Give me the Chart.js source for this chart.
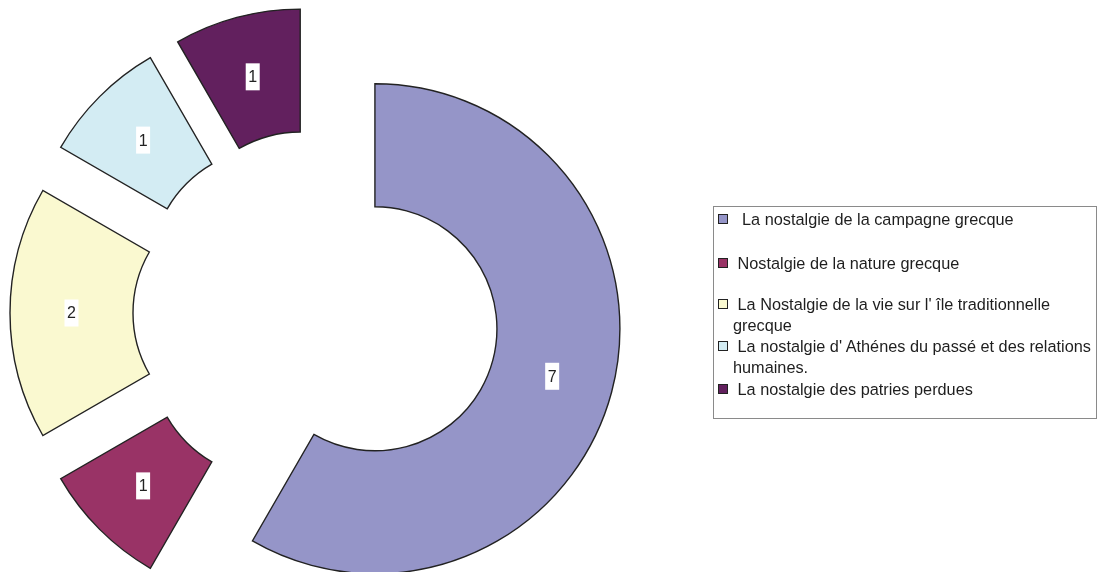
<!DOCTYPE html>
<html>
<head>
<meta charset="utf-8">
<script src="https://cdn.jsdelivr.net/npm/chart.js@4"></script>
<style>
	body { margin: 0; background: #fff; }
	#wrap { position: relative; width: 1100px; height: 572px; }
	#legend {
		position: absolute; left: 713px; top: 206px; width: 384px; height: 213px;
		border: 1px solid #8a8a8a; box-sizing: border-box;
		font-family: "Liberation Sans", Arial, sans-serif; font-size: 16.3px; color: #1e1e1e;
	}
	.item { position: absolute; left: 19px; white-space: pre; line-height: 20.5px; }
	.box { position: absolute; left: -15px; top: 5px; width: 8px; height: 8px; border: 1px solid #222; }
</style>
</head>
<body>
<div id="wrap">
	<canvas id="myChart"></canvas>
	<div id="legend"></div>
</div>
<script>
const labels = [
	' La nostalgie de la campagne grecque',
	'Nostalgie de la nature grecque',
	"La Nostalgie de la vie sur l' île traditionnelle\ngrecque",
	"La nostalgie d' Athénes du passé et des relations\nhumaines.",
	'La nostalgie des patries perdues'
];
const values = [7, 1, 2, 1, 1];
const colors = ['#9595C8', '#993366', '#FAF9D0', '#D3ECF3', '#62205E'];

const EXPLODE = 61; // distance each slice is pulled out from the centre

// push every arc out along its middle angle (exploded doughnut)
const explodePlugin = {
	id: 'explode',
	afterUpdate(chart) {
		chart.getDatasetMeta(0).data.forEach(arc => {
			const mid = (arc.startAngle + arc.endAngle) / 2;
			arc.x += Math.cos(mid) * EXPLODE;
			arc.y += Math.sin(mid) * EXPLODE;
		});
	}
};

// value labels on white boxes
const valueLabels = {
	id: 'valueLabels',
	afterDatasetsDraw(chart) {
		const ctx = chart.ctx;
		chart.getDatasetMeta(0).data.forEach((arc, i) => {
			const p = arc.tooltipPosition();
			ctx.save();
			ctx.fillStyle = '#fff';
			ctx.fillRect(p.x - 7, p.y - 13.5, 14, 27);
			ctx.fillStyle = '#222';
			ctx.font = '16px "Liberation Sans", Arial, sans-serif';
			ctx.textAlign = 'center';
			ctx.textBaseline = 'middle';
			ctx.fillText(String(values[i]), p.x, p.y + 1);
			ctx.restore();
		});
	}
};

window.onload = () => {
	const ctx = document.getElementById('myChart').getContext('2d');
	new Chart(ctx, {
		type: 'doughnut',
		data: {
			labels: labels,
			datasets: [{
				data: values,
				backgroundColor: colors,
				borderColor: '#222',
				borderWidth: 1.4,
				borderJoinStyle: 'miter'
			}]
		},
		options: {
			responsive: true,
			maintainAspectRatio: false,
			animation: false,
			events: [],
			radius: 245,
			cutout: '49.8%',
			layout: { padding: { left: 0, right: 468, top: 54, bottom: 0 } },
			plugins: {
				legend: { display: false },
				tooltip: { enabled: false }
			}
		},
		plugins: [explodePlugin, valueLabels]
	});

	// legend box
	const legend = document.getElementById('legend');
	const rowTops = [2, 46, 87, 129, 172];
	labels.forEach((text, i) => {
		const item = document.createElement('div');
		item.className = 'item';
		item.style.top = rowTops[i] + 'px';
		item.textContent = ' ' + text;
		const box = document.createElement('span');
		box.className = 'box';
		box.style.background = colors[i];
		item.appendChild(box);
		legend.appendChild(item);
	});
};
</script>
</body>
</html>
